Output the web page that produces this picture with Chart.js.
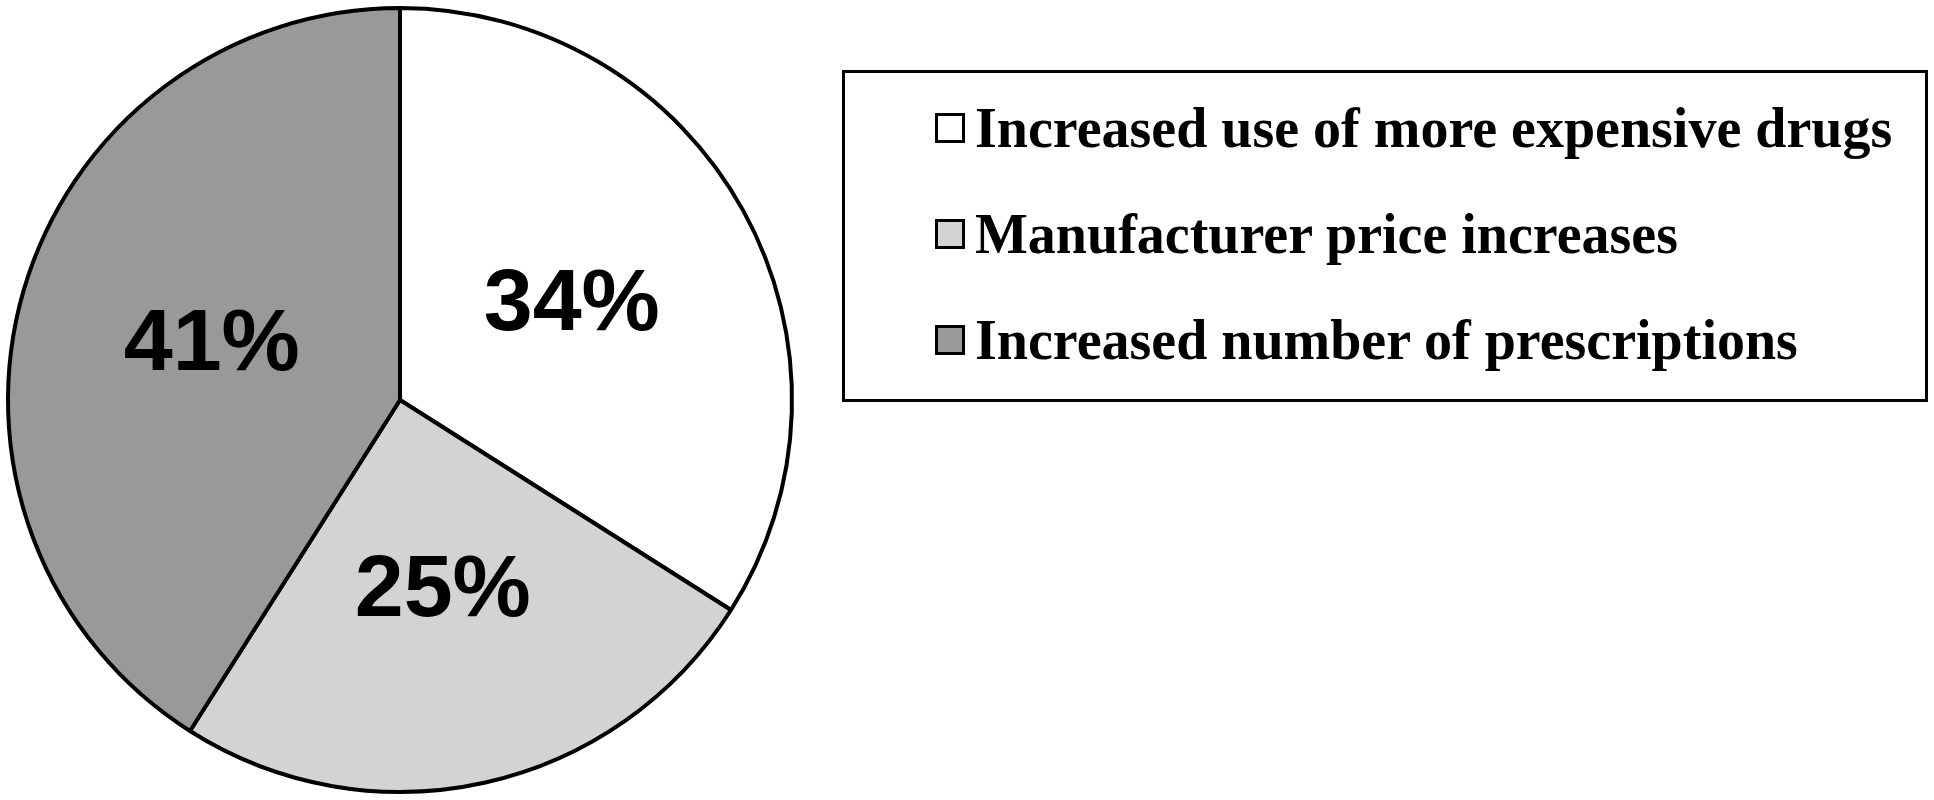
<!DOCTYPE html>
<html>
<head>
<meta charset="utf-8">
<script src="https://cdn.jsdelivr.net/npm/chart.js@4"></script>
<style>
  body { margin: 0; background: #fff; width: 1934px; height: 800px; overflow: hidden; }
  #wrap { position: absolute; left: 0; top: 0; width: 800px; height: 800px; }
  #legend { position: absolute; left: 842px; top: 70px; width: 1086px; height: 332px; border: 3px solid #000; box-sizing: border-box;
    font-family: 'Liberation Serif', 'Times New Roman', serif; font-weight: bold; font-size: 56px; padding-top: 2px; padding-left: 90px; }
  .item { display: flex; align-items: center; height: 106px; white-space: nowrap; }
  .sw { width: 30px; height: 30px; border: 3px solid #000; margin-right: 10px; box-sizing: border-box; flex: none; }
</style>
</head>
<body>
<div id="wrap"><canvas id="pie"></canvas></div>
<div id="legend"></div>
<script>
const categories = ['Increased use of more expensive drugs', 'Manufacturer price increases', 'Increased number of prescriptions'];
const shares = [34, 25, 41];
const colours = ['#ffffff', '#d3d3d3', '#999999'];

const legend = document.getElementById('legend');
categories.forEach(function (c, i) {
    const d = document.createElement('div');
    d.className = 'item';
    d.innerHTML = '<span class="sw" style="background:' + colours[i] + '"></span><span>' + c + '</span>';
    legend.appendChild(d);
});

const pieLabels = {
    id: 'pieLabels',
    afterDatasetsDraw(chart) {
        const ctx = chart.ctx;
        const meta = chart.getDatasetMeta(0);
        ctx.save();
        ctx.font = 'bold 88px "Liberation Sans", Arial, sans-serif';
        ctx.fillStyle = '#000';
        ctx.textAlign = 'center';
        ctx.textBaseline = 'middle';
        meta.data.forEach(function (arc, i) {
            const mid = (arc.startAngle + arc.endAngle) / 2;
            const r = arc.outerRadius * 0.5;
            ctx.fillText(shares[i] + '%', arc.x + Math.cos(mid) * r, arc.y + Math.sin(mid) * r);
        });
        ctx.restore();
    }
};

new Chart(document.getElementById('pie').getContext('2d'), {
    type: 'pie',
    data: {
        labels: categories,
        datasets: [{ data: shares, backgroundColor: colours, borderColor: '#000', borderWidth: 4 }]
    },
    options: {
        responsive: true,
        maintainAspectRatio: false,
        animation: false,
        layout: { padding: 6 },
        plugins: { legend: { display: false }, tooltip: { enabled: false } }
    },
    plugins: [pieLabels]
});
</script>
</body>
</html>
